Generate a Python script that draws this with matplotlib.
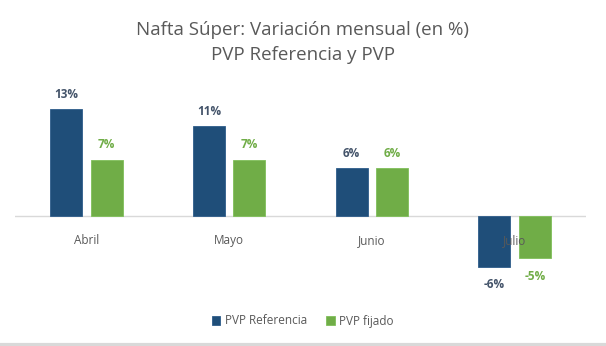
import matplotlib.pyplot as plt
import numpy as np

plt.rcParams['font.family'] = ['Open Sans', 'DejaVu Sans']

meses = ['Abril', 'Mayo', 'Junio', 'Julio']
pvp_referencia = [12.9, 10.8, 5.8, -6.1]
pvp_fijado = [6.8, 6.8, 5.8, -5.1]
series = ['PVP Referencia', 'PVP fijado']

azul = '#1F4E79'
verde = '#70AD47'
color_txt_azul = '#44546A'

fig = plt.figure(figsize=(6.06, 3.46), dpi=100)
ax = fig.add_axes([15 / 606, 1 - 290 / 346, 571 / 606, 205 / 346])

x = np.arange(len(meses))
ancho = 0.225
desp = 0.142

b1 = ax.bar(x - desp, pvp_referencia, width=ancho, color=azul, label=series[0],
            edgecolor='#2E5C8A', linewidth=0.6)
b2 = ax.bar(x + desp, pvp_fijado, width=ancho, color=verde, label=series[1],
            edgecolor='#7FBF5A', linewidth=0.6)

# etiquetas de datos
for barras, vals, col in [(b1, pvp_referencia, color_txt_azul), (b2, pvp_fijado, verde)]:
    for b, v in zip(barras, vals):
        cx = b.get_x() + b.get_width() / 2
        if v >= 0:
            ax.annotate(f'{round(v):.0f}%', (cx, v), xytext=(0, 6), textcoords='offset points',
                        ha='center', va='bottom', fontsize=8.5, fontweight='bold', color=col)
        else:
            ax.annotate(f'{round(v):.0f}%', (cx, v), xytext=(0, -8), textcoords='offset points',
                        ha='center', va='top', fontsize=8.5, fontweight='bold', color=col)

# etiquetas de categoria sobre la linea del cero
for i, m in enumerate(meses):
    ax.annotate(m, (i, 0), xytext=(0, -13), textcoords='offset points',
                ha='center', va='top', fontsize=8.5, color='#595959')

ax.axhline(0, color='#D9D9D9', linewidth=1, zorder=0)
ax.set_xlim(-0.5, 3.5)
ax.set_ylim(-8.9, 15.8)
ax.axis('off')

fig.text(0.5, 1 - 30 / 346, 'Nafta Súper: Variación mensual (en %)', ha='center', va='center',
         fontsize=13.5, color='#595959')
fig.text(0.5, 1 - 55 / 346, 'PVP Referencia y PVP', ha='center', va='center',
         fontsize=13.5, color='#595959')

fig.legend(handles=[b1, b2], loc='center', bbox_to_anchor=(0.5, 1 - 321 / 346), ncol=2,
           frameon=False, fontsize=8.5, handlelength=0.7, handleheight=0.7,
           columnspacing=1.6, handletextpad=0.4, labelcolor='#595959')

fig.add_artist(plt.Line2D([0, 1], [1.5 / 346, 1.5 / 346], color='#D9D9D9', linewidth=3))

fig.savefig('out.png', dpi=100)
